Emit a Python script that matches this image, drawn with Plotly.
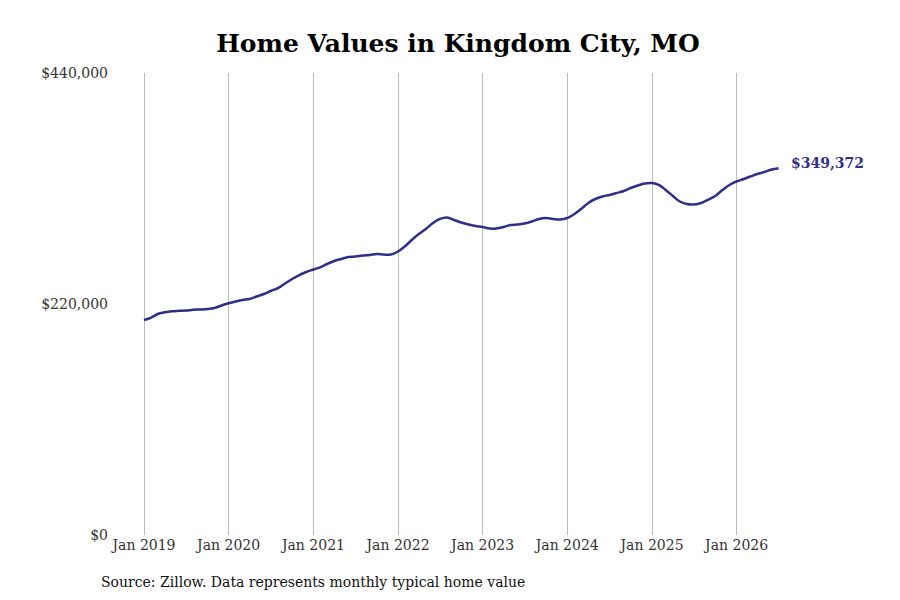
import pandas as pd
import plotly.graph_objects as go

# monthly typical home value, Jan 2019 .. Jul 2026
months = pd.date_range("2019-01-01", periods=91, freq="MS")
values = [
    204800, 207100, 210500, 212100, 213100, 213500, 213800, 214500, 214800, 215200, 216200, 218600,
    220700, 222400, 223800, 224800, 227100, 229500, 232400, 235200, 239500, 243800, 247600, 250500,
    252900, 255200, 258100, 261000, 262900, 264800, 265200, 266200, 266700, 267600, 267100, 267100,
    270000, 275200, 281000, 286700, 291400, 297100, 301000, 302400, 300000, 297600, 295700, 294300,
    293300, 291900, 291900, 293300, 295200, 295700, 296700, 298600, 301000, 301900, 301000, 300500,
    301900, 305700, 310500, 316200, 320000, 322400, 323800, 325700, 327600, 330500, 332900, 334800,
    335200, 333300, 328600, 322900, 317600, 315200, 314800, 316200, 319500, 322900, 328600, 333300,
    336700, 339100, 341400, 343800, 345700, 348100, 349372,
]

tick_dates = pd.date_range("2019-01-01", "2026-01-01", freq="YS")
tick_text = [d.strftime("Jan %Y") for d in tick_dates]
y_ticks = [0, 220000, 440000]
y_text = ["$0", "$220,000", "$440,000"]

line_color = "#2f2f8a"
font = "DejaVu Serif"

fig = go.Figure()
fig.add_trace(go.Scatter(x=months, y=values, mode="lines",
                         line=dict(color=line_color, width=2.5, shape="spline"),
                         hoverinfo="skip"))

# end-of-line value label
fig.add_annotation(x=months[-1], y=values[-1], text=f"<b>${values[-1]:,}</b>",
                   showarrow=False, xanchor="left", xshift=10, yshift=5,
                   font=dict(family=font, size=14, color=line_color))

fig.add_annotation(x=0, y=0, xref="paper", yref="paper", xanchor="left", yanchor="top",
                   text="Source: Zillow. Data represents monthly typical home value",
                   showarrow=False, xshift=-10, yshift=-37,
                   font=dict(family=font, size=14, color="#111111"))

fig.update_layout(
    width=900, height=600,
    title=dict(text="<b>Home Values in Kingdom City, MO</b>", x=0.5, xanchor="center",
               y=0.942, yanchor="middle", font=dict(family=font, size=25, color="#000000")),
    margin=dict(l=101, r=103, t=65, b=73),
    plot_bgcolor="white", paper_bgcolor="white",
    showlegend=False,
    font=dict(family=font, size=14, color="#333333"),
)
fig.update_xaxes(range=["2018-08-03", "2026-10-23"], tickvals=tick_dates, ticktext=tick_text,
                 showgrid=True, gridcolor="#bbbbbb", gridwidth=1, zeroline=False,
                 showline=False, ticks="", tickfont=dict(size=14, color="#333333"))
fig.update_yaxes(range=[0, 440000], tickvals=y_ticks, ticktext=y_text, showgrid=False,
                 zeroline=False, showline=False, ticks="",
                 tickfont=dict(size=14, color="#333333"))

fig.write_html("out.html")
